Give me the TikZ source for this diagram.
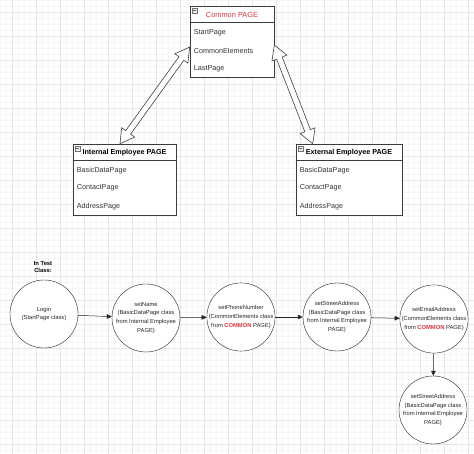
\documentclass[tikz,border=0pt]{standalone}
\usepackage{fontspec}
\setmainfont{Liberation Sans}
\usetikzlibrary{arrows.meta,calc}
\definecolor{titlered}{HTML}{D7373F}
\definecolor{boxline}{HTML}{3C3C3C}
\definecolor{gridminor}{HTML}{F6F6F6}
\definecolor{gridmajor}{HTML}{E6E6E6}
\tikzset{
  classbox/.style={draw=boxline, fill=white, inner sep=0pt, line width=0.6pt},
  boxtitle/.style={font=\fontsize{7.2}{8.6}\selectfont\bfseries, inner sep=0pt},
  boxitem/.style={anchor=west, font=\fontsize{7.2}{8.6}\selectfont, text=black!80, inner sep=0pt},
  minusicon/.style={draw=black!55, fill=black!8, line width=0.3pt},
  stepcircle/.style={draw=black!85, fill=white, circle, minimum size=68pt, inner sep=0pt,
    align=center, font=\fontsize{5.8}{8.8}\selectfont, text=black!85},
  flow/.style={draw=black!85, line width=0.5pt, -{Triangle[length=5pt,width=4.5pt]}},
  bigarrow/.style={draw=black!75, fill=white, line width=0.6pt, line join=miter},
}
\newcommand{\hollowarrow}[2]{%
  \path[bigarrow] let \p1=($(#2)-(#1)$), \n1={atan2(\y1,\x1)}, \n2={veclen(\x1,\y1)} in
    [shift={(#1)}, rotate=\n1]
    (0,0) -- (14,8) -- (14,3) -- (\n2-14,3) -- (\n2-14,8) -- (\n2,0)
    -- (\n2-14,-8) -- (\n2-14,-3) -- (14,-3) -- (14,-8) -- cycle;}
\newcommand{\minusbox}[1]{%
  \draw[minusicon] ([xshift=2pt,yshift=-2pt]#1.north west) rectangle ++(5,5);
  \draw[black!60, line width=0.4pt] ([xshift=3pt,yshift=-4.5pt]#1.north west) -- ++(3,0);}
\begin{document}
\begin{tikzpicture}[x=1pt,y=-1pt]
\useasboundingbox (0,0) rectangle (474,454);
\fill[white] (0,0) rectangle (474,454);
% Drawing grid
\foreach \g in {0,6,...,474} \draw[gridminor, line width=0.4pt] (\g,0) -- (\g,454);
\foreach \g in {0,6,...,454} \draw[gridminor, line width=0.4pt] (0,\g) -- (474,\g);
\foreach \g in {12,36,...,474} \draw[gridmajor, line width=0.5pt] (\g,0) -- (\g,454);
\foreach \g in {12,36,...,454} \draw[gridmajor, line width=0.5pt] (0,\g) -- (474,\g);
% Done with grid; drawing class boxes
% Box 1: Common PAGE
\node[classbox, minimum width=84pt, minimum height=71pt] (common) at (232,41.5) {};
\draw[boxline, line width=0.6pt] ([yshift=-17pt]common.north west) -- ([yshift=-17pt]common.north east);
\minusbox{common}
\node[boxtitle, font=\fontsize{7.4}{8.6}\selectfont, text=titlered] (commontitle) at ([yshift=-9pt]common.north) {Common PAGE};
\node[boxitem] (commonstart) at ([xshift=4pt,yshift=-27pt]common.north west) {StartPage};
\node[boxitem] (commonelem) at ([xshift=4pt,yshift=-45.5pt]common.north west) {CommonElements};
\node[boxitem] (commonlast) at ([xshift=4pt,yshift=-63pt]common.north west) {LastPage};
% Box 2: Internal Employee PAGE
\node[classbox, minimum width=103pt, minimum height=71pt] (internal) at (124.5,179.5) {};
\draw[boxline, line width=0.6pt] ([yshift=-17pt]internal.north west) -- ([yshift=-17pt]internal.north east);
\minusbox{internal}
\node[boxtitle] (internaltitle) at ([yshift=-9pt]internal.north) {Internal Employee PAGE};
\node[boxitem] (internalbasic) at ([xshift=4pt,yshift=-26.5pt]internal.north west) {BasicDataPage};
\node[boxitem] (internalcontact) at ([xshift=4pt,yshift=-44.5pt]internal.north west) {ContactPage};
\node[boxitem] (internaladdr) at ([xshift=4pt,yshift=-63pt]internal.north west) {AddressPage};
% Box 3: External Employee PAGE
\node[classbox, minimum width=106pt, minimum height=71pt] (external) at (349,179.5) {};
\draw[boxline, line width=0.6pt] ([yshift=-17pt]external.north west) -- ([yshift=-17pt]external.north east);
\minusbox{external}
\node[boxtitle] (externaltitle) at ([yshift=-9pt]external.north) {External Employee PAGE};
\node[boxitem] (externalbasic) at ([xshift=4pt,yshift=-26.5pt]external.north west) {BasicDataPage};
\node[boxitem] (externalcontact) at ([xshift=4pt,yshift=-44.5pt]external.north west) {ContactPage};
\node[boxitem] (externaladdr) at ([xshift=4pt,yshift=-63pt]external.north west) {AddressPage};
% Done with boxes; drawing double arrows
\coordinate (leftup) at ([yshift=-5.5pt]common.west);
\coordinate (leftdown) at ([xshift=-4.5pt]internal.north);
\coordinate (rightup) at ([yshift=-3.5pt]common.east);
\coordinate (rightdown) at ([xshift=17pt]external.north west);
\hollowarrow{leftdown}{leftup}
\hollowarrow{rightdown}{rightup}
% Done with double arrows; drawing test flow
\node[font=\fontsize{5.8}{7.4}\selectfont\bfseries, align=center, inner sep=0pt] (testlabel) at (43,267) {In Test\\Class:};
\node[stepcircle] (login) at (44,314) {Login\\(StartPage class)};
\node[stepcircle] (setname) at (146,318) {setName\\(BasicDataPage class\\from Internal Employee\\PAGE)};
\node[stepcircle] (setphone) at (241,317) {setPhoneNumber\\(CommonElements class\\from \textcolor{titlered}{\bfseries COMMON} PAGE)};
\node[stepcircle] (setstreet) at (337,317) {setStreetAddress\\(BasicDataPage class\\from Internal Employee\\PAGE)};
\node[stepcircle] (setemail) at (434,319) {setEmailAddress\\(CommonElements class\\from \textcolor{titlered}{\bfseries COMMON} PAGE)};
\node[stepcircle] (setstreetb) at (433,410) {setStreetAddress\\(BasicDataPage class\\from Internal Employee\\PAGE)};
\draw[flow] (login) -- (setname);
\draw[flow] (setname) -- (setphone);
\draw[flow] (setphone) -- (setstreet);
\draw[flow] (setstreet) -- (setemail);
\draw[flow] (setemail) -- (setstreetb);
% Done with test flow
\end{tikzpicture}
\end{document}
